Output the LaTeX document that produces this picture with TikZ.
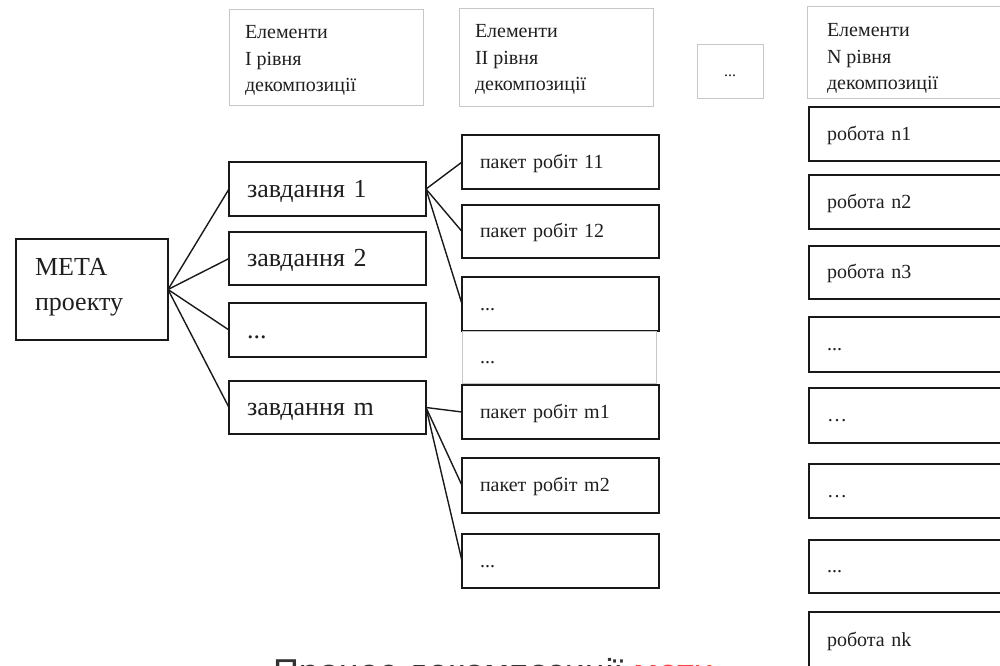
\documentclass[tikz,border=0pt]{standalone}
\usepackage{fontspec}
\setmainfont{Liberation Serif}
\newfontfamily\titlefont{Liberation Sans}
\begin{document}
\begin{tikzpicture}[x=1pt,y=-1pt,
  every node/.style={inner sep=0pt, outer sep=0pt, text=black!88},
  blk/.style={draw=black!90, line width=1.5pt, anchor=north west, align=left, inner xsep=18pt},
  gry/.style={draw=black!22, line width=1pt, anchor=north west, align=left, inner xsep=18pt},
  big/.style={font=\fontsize{26}{35}\selectfont, text height=19pt, text depth=3pt},
  sml/.style={font=\fontsize{20}{26}\selectfont, text height=15pt, text depth=3pt},
  hdr/.style={font=\fontsize{20}{26.5}\selectfont, align=left, anchor=north west},
  conn/.style={line width=1.4pt, draw=black!90},
  task/.style={blk, big, minimum width=197pt, text width=161pt},
  pkg/.style={blk, sml, minimum width=197pt, text width=161pt},
  job/.style={blk, sml, minimum width=201pt, text width=165pt}
]
\useasboundingbox (0,0) rectangle (1000,665);
\clip (0,0) rectangle (1000,665);

% header boxes
\node[gry, minimum width=194pt, minimum height=96pt] (h1) at (229,9) {};
\node[hdr] (h1t) at (245,25.5) {Елементи\\I рівня\\декомпозиції};
\node[gry, minimum width=194pt, minimum height=98pt] (h2) at (459,8) {};
\node[hdr] (h2t) at (475,24.5) {Елементи\\II рівня\\декомпозиції};
\node[gry, align=center, inner xsep=0pt, minimum width=66pt, minimum height=54pt,
      font=\fontsize{16}{18}\selectfont, text height=10pt, text depth=0pt] (hd) at (697,44) {...};
\node[gry, minimum width=203pt, minimum height=92pt] (hn) at (807,6) {};
\node[hdr] (hnt) at (827,23.5) {Елементи\\N рівня\\декомпозиції};

% goal
\node[blk, minimum width=152pt, minimum height=101pt] (meta) at (16,239) {};
\node[font=\fontsize{26}{35}\selectfont, align=left, anchor=north west] (metat) at (35,258) {МЕТА\\проекту};

% tasks
\node[task, minimum height=54pt] (t1) at (229,162) {завдання 1};
\node[task, minimum height=53pt] (t2) at (229,232) {завдання 2};
\node[task, minimum height=54pt] (t3) at (229,303) {...};
\node[task, minimum height=53pt] (tm) at (229,381) {завдання m};

% packages
\node[pkg, minimum height=54pt] (p11) at (462,135) {пакет робіт 11};
\node[pkg, minimum height=53pt] (p12) at (462,205) {пакет робіт 12};
\node[pkg, minimum height=54pt] (p1d) at (462,277) {...};
\node[gry, sml, minimum width=194pt, text width=158pt, minimum height=52pt] (pg) at (462,331) {...};
\node[pkg, minimum height=54pt] (pm1) at (462,385) {пакет робіт m1};
\node[pkg, minimum height=55pt] (pm2) at (462,458) {пакет робіт m2};
\node[pkg, minimum height=54pt] (pmd) at (462,534) {...};

% works
\node[job, minimum height=54pt] (n1) at (809,107) {робота n1};
\node[job, minimum height=54pt] (n2) at (809,175) {робота n2};
\node[job, minimum height=53pt] (n3) at (809,246) {робота n3};
\node[job, minimum height=55pt] (n4) at (809,317) {...};
\node[job, minimum height=55pt] (n5) at (809,388) {…};
\node[job, minimum height=54pt] (n6) at (809,464) {…};
\node[job, minimum height=53pt] (n7) at (809,540) {...};
\node[job, minimum height=56pt] (nk) at (809,612) {робота nk};

% connectors
\foreach \t in {t1,t2,t3,tm} \draw[conn] (meta.east) -- (\t.west);
\foreach \p in {p11,p12,p1d} \draw[conn] (t1.east) -- (\p.west);
\foreach \p in {pm1,pm2,pmd} \draw[conn] (tm.east) -- (\p.west);

% cut-off title
\node[anchor=base west, font=\titlefont\fontsize{36}{40}\selectfont, text=black!80] (title) at (273,684)
  {Процес декомпозиції \textcolor{red!75}{мети}};
\end{tikzpicture}
\end{document}
